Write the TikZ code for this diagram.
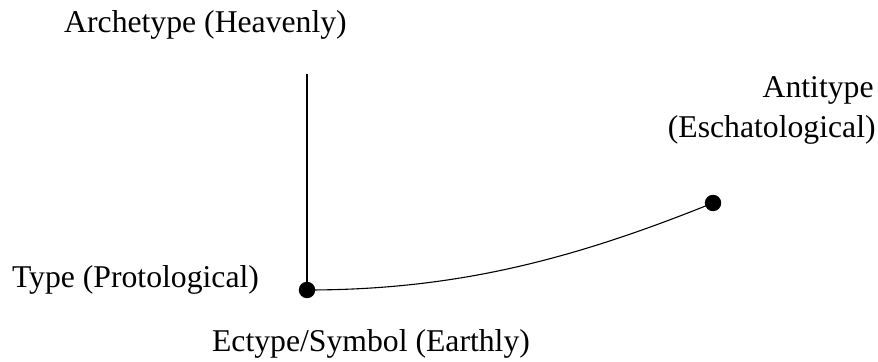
\documentclass[tikz,border=0pt]{standalone}
\usepackage{fontspec}
\setmainfont{Liberation Serif}
\begin{document}
\begin{tikzpicture}[x=0.5pt,y=-0.5pt,
  lbl/.style={inner sep=0pt,font=\fontsize{15.85}{18}\selectfont},
  dot/.style={circle,fill=black,inner sep=0pt,minimum size=8.2pt},
  conn/.style={line width=0.55pt}]
\useasboundingbox (0,0) rectangle (878,362);
\node[lbl,anchor=base] (arch) at (205.5,33) {Archetype (Heavenly)};
\node[lbl,anchor=base] (type) at (135.5,288) {Type (Protological)};
\node[lbl,anchor=base] (ect) at (371,352) {Ectype/Symbol (Earthly)};
\node[lbl,anchor=base east] (anti) at (874,98) {Antitype};
\node[lbl,anchor=base east] (esch) at (876,138) {(Eschatological)};
\coordinate (top) at (307,74);
\node[dot] (p) at (307,290) {};
\node[dot] (q) at (713,203) {};
\draw[conn] (top) -- (p.center);
\draw[conn] (p.center) .. controls (457,290) and (574,259) .. (q.center);
\end{tikzpicture}
\end{document}
